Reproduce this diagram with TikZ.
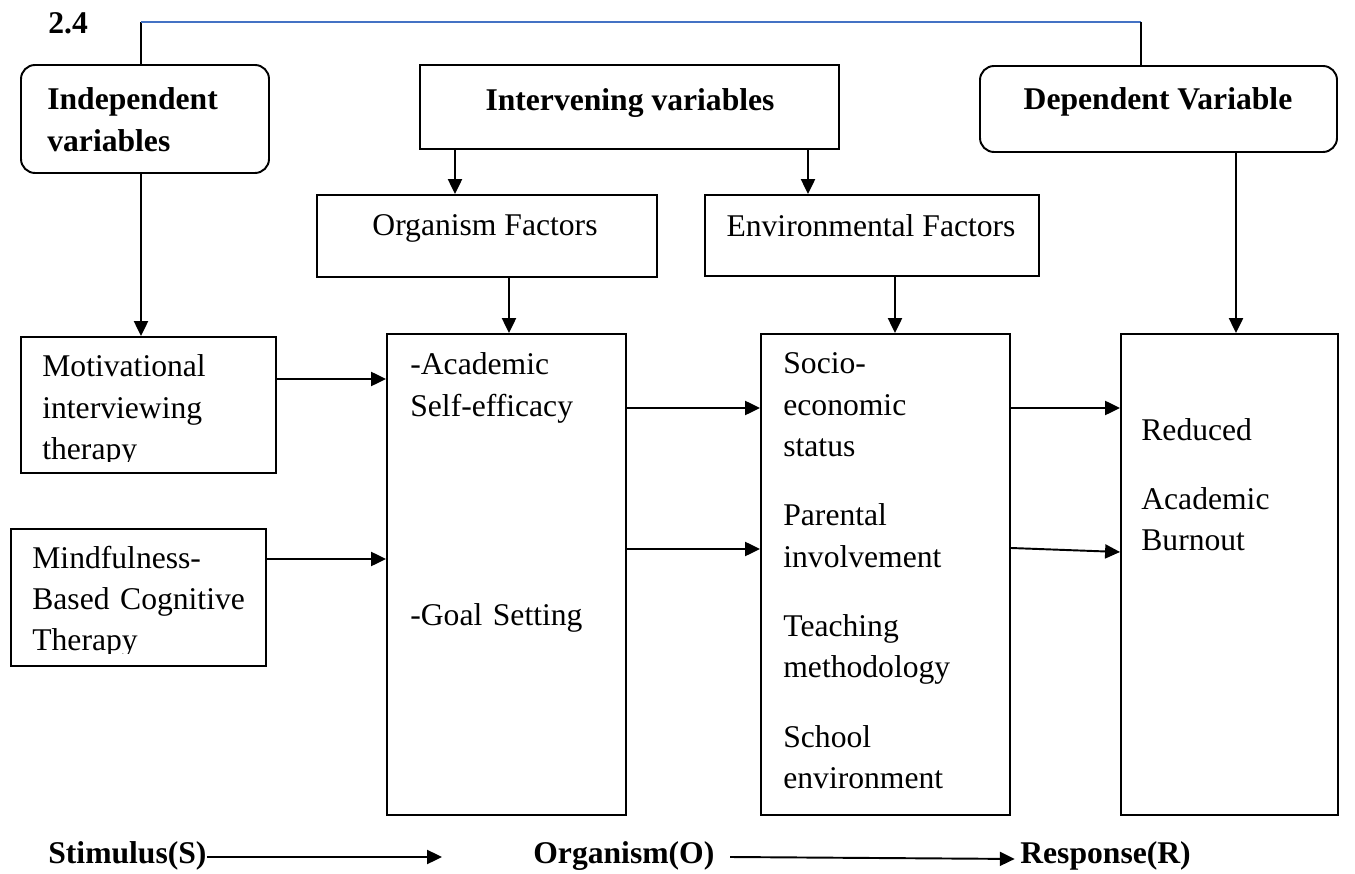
\documentclass[tikz,border=0pt]{standalone}
\usepackage{fontspec}
\setmainfont{Liberation Serif}
\usetikzlibrary{arrows.meta,positioning,fit}
\definecolor{lineblue}{RGB}{68,114,196}
\tikzset{
  box/.style={draw, line width=1.1pt, inner sep=0pt},
  rbox/.style={box, rounded corners=8pt},
  conn/.style={line width=1.1pt},
  arr/.style={line width=1.1pt, -{Triangle[length=8.5pt,width=8pt]}},
  plain/.style={inner sep=0pt, anchor=base, font=\fontsize{18}{23.5}\selectfont},
  hdr/.style={inner sep=0pt, anchor=base, font=\fontsize{18}{23.5}\selectfont\bfseries},
  txt/.style={inner sep=0pt, anchor=base west, align=left, text width=6cm, font=\fontsize{18}{23.5}\selectfont},
  txtb/.style={txt, font=\fontsize{18}{23.5}\selectfont\bfseries},
}
\begin{document}
\begin{tikzpicture}[x=0.02cm, y=-0.02cm]
    \useasboundingbox (0,0) rectangle (1355,874);

    % Top row: variable headings
    \node[hdr, anchor=base west] (secnum) at (48,34) {2.4};
    \node[rbox, fit={(21,65) (269,173)}] (indep) {};
    \node[txtb] (indeptxt) at (47,110) {Independent\\variables};
    \node[box, fit={(420,65) (839,149)}] (interv) {};
    \node[hdr] (intervtxt) at (630,111) {Intervening variables};
    \node[rbox, fit={(980,66) (1337,152)}] (depvar) {};
    \node[hdr] (depvartxt) at (1158,110) {Dependent Variable};

    % Bracket over the top
    \coordinate (tl) at (141,22);
    \coordinate (tr) at (1141,22);
    \draw[conn] (indep.north -| tl) -- (tl);
    \draw[line width=0.8pt, lineblue] (tl) -- (tr);
    \draw[conn] (tr) -- (depvar.north -| tr);

    % Factor boxes
    \node[box, fit={(317,195) (657,277)}] (orgfac) {};
    \node[plain] (orgfactxt) at (485,236) {Organism Factors};
    \node[box, fit={(705,195) (1039,276)}] (envfac) {};
    \node[plain] (envfactxt) at (871,237) {Environmental Factors};

    % Stimulus boxes
    \node[box, fit={(21,337) (276,473)}] (motiv) {};
    \begin{scope}
        \clip (21,337) rectangle (276,462);
        \node[txt] (motivtxt) at (42,377) {Motivational\\interviewing\\therapy};
    \end{scope}
    \node[box, fit={(11,529) (266,666)}] (mbct) {};
    \begin{scope}
        \clip (11,529) rectangle (266,653);
        \node[txt] (mbcttxt) at (32,568) {Mindfulness-\\Based Cognitive\\Therapy};
    \end{scope}

    % Organism box
    \node[box, fit={(387,334) (626,815)}] (acad) {};
    \node[txt] (acadtxt) at (410,375) {-Academic\\Self-efficacy};
    \node[txt] (goaltxt) at (410,625) {-Goal Setting};

    % Environment box
    \node[box, fit={(761,334) (1010,815)}] (socio) {};
    \node[txt] (sociotxt) at (783,374) {Socio-\\economic\\status\\[16pt]Parental\\involvement\\[16pt]Teaching\\methodology\\[16pt]School\\environment};

    % Response box
    \node[box, fit={(1121,334) (1338,815)}] (burnout) {};
    \node[txt] (burnouttxt) at (1141,440) {Reduced\\[16pt]Academic\\Burnout};

    % Vertical arrows
    \draw[arr] (indep.south -| tl) -- (motiv.north -| tl);
    \draw[arr] (interv.south -| 455,0) -- (orgfac.north -| 455,0);
    \draw[arr] (interv.south -| 808,0) -- (envfac.north -| 808,0);
    \draw[arr] (orgfac.south -| 509,0) -- (acad.north -| 509,0);
    \draw[arr] (envfac.south -| 895,0) -- (socio.north -| 895,0);
    \draw[arr] (depvar.south -| 1236,0) -- (burnout.north -| 1236,0);

    % Horizontal arrows
    \draw[arr] (motiv.east |- 0,379) -- (acad.west |- 0,379);
    \draw[arr] (mbct.east |- 0,559) -- (acad.west |- 0,559);
    \draw[arr] (acad.east |- 0,408) -- (socio.west |- 0,408);
    \draw[arr] (acad.east |- 0,549) -- (socio.west |- 0,549);
    \draw[arr] (socio.east |- 0,408) -- (burnout.west |- 0,408);
    \draw[arr] (socio.east |- 0,548) -- (burnout.west |- 0,552);

    % S-O-R row
    \node[hdr, anchor=base west] (stim) at (48,863) {Stimulus(S)};
    \node[hdr, anchor=base west] (orgn) at (533,863) {Organism(O)};
    \node[hdr, anchor=base west] (resp) at (1020,863) {Response(R)};
    \coordinate (stimend) at (442,857);
    \coordinate (orgnstart) at (730,857);
    \draw[arr] (stim.east |- stimend) -- (stimend);
    \draw[arr, shorten >=3pt] (orgnstart) -- (resp.west |- 0,859);
\end{tikzpicture}
\end{document}
